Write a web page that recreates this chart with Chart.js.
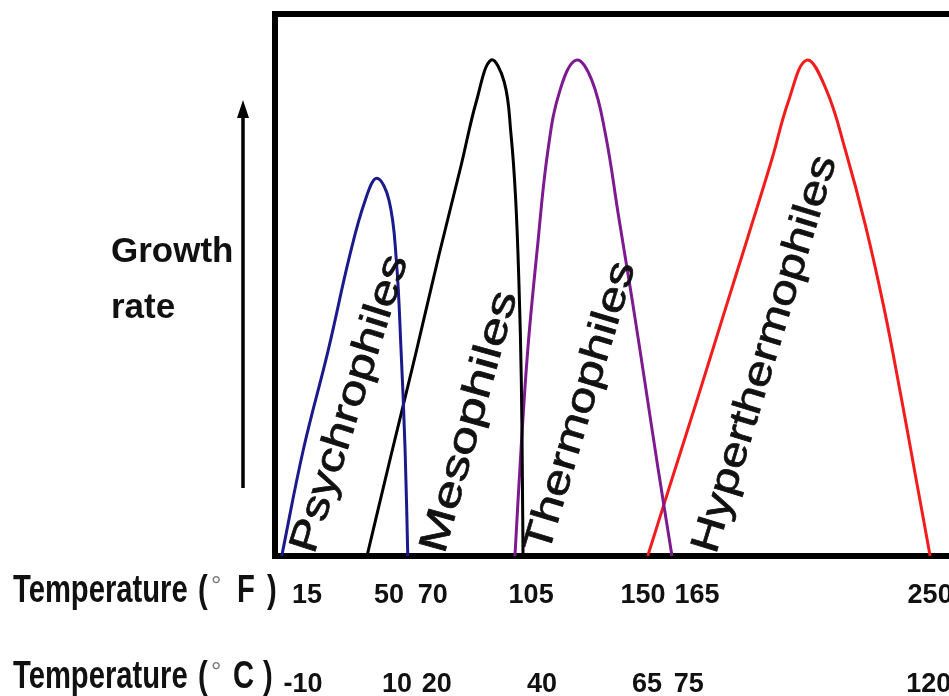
<!DOCTYPE html>
<html><head><meta charset="utf-8">
<style>html,body{margin:0;padding:0;background:#fff;overflow:hidden}</style>
<script src="https://cdn.jsdelivr.net/npm/chart.js@4.4.1/dist/chart.umd.min.js"></script>
</head><body>
<canvas id="c" width="949" height="696"></canvas>
<script>
// x: relative temperature position along the axis (0 = left edge of plot, 100 = right edge)
// y: growth rate, % of plot height
const fTickPos = [4.75, 16.9, 23.4, 38.0, 54.6, 62.6, 97.2];
const fTickLabels = ['15', '50', '70', '105', '150', '165', '250'];
const cTickPos = [4.15, 18.1, 24.0, 39.6, 55.2, 61.4, 97.0];
const cTickLabels = ['-10', '10', '20', '40', '65', '75', '120'];

const psychroX = [1.0, 4.2, 7.9, 11.1, 13.4, 15.1, 16.9, 18.0, 18.7, 19.3, 19.7];
const psychroY = [0, 19.6, 38.0, 55.5, 65.7, 69.7, 65.7, 54.6, 38.0, 19.6, 0];

const mesoX = [13.65, 17.2, 20.8, 24.3, 27.6, 29.9, 32.05, 34.0, 35.0, 35.7, 36.2, 36.55, 36.7, 36.8];
const mesoY = [0, 18.5, 36.9, 55.4, 72.0, 84.0, 91.5, 87.5, 78.0, 66.0, 50.0, 32.0, 15.0, 0];

const thermoX = [35.6, 36.5, 37.5, 38.9, 40.5, 42.3, 44.7, 47.0, 49.0, 51.0, 53.0, 54.9, 56.8, 58.9];
const thermoY = [0, 19.6, 38.0, 56.5, 74.9, 86.0, 91.5, 87.8, 78.0, 62.5, 47.2, 31.9, 16.4, 0];

const hyperX = [55.3, 59.05, 62.8, 66.5, 70.2, 73.7, 76.2, 78.9, 81.8, 84.6, 87.6, 90.4, 92.8, 95.0, 97.2];
const hyperY = [0, 14.8, 29.5, 44.3, 59.0, 73.1, 84.0, 91.5, 86.0, 75.0, 61.0, 45.5, 30.0, 15.0, 0];

const seriesNames = ['Psychrophiles', 'Mesophiles', 'Thermophiles', 'Hyperthermophiles'];
const seriesColors = ['#1a1a8c', '#000000', '#7d1a8f', '#f21c1c'];
const seriesX = [psychroX, mesoX, thermoX, hyperX];
const seriesY = [psychroY, mesoY, thermoY, hyperY];

// label anchors (x position at baseline start), rotation angle, text length
const labelX = [5.8, 25.1, 40.5, 65.4];
const labelAngle = [72.4, 74.3, 73.2, 73.0];
const labelLen = [310, 270, 302, 413];

const FONT = '"Liberation Sans", Arial, Helvetica, sans-serif';

const overlay = {
  id: 'overlay',
  afterDatasetsDraw(chart) {
    const ctx = chart.ctx;
    const xs = chart.scales.x, ys = chart.scales.y;
    ctx.save();
    ctx.fillStyle = '#111';
    ctx.strokeStyle = '#111';
    ctx.lineWidth = 0.7;
    ctx.textAlign = 'left';
    ctx.textBaseline = 'alphabetic';
    seriesNames.forEach((name, i) => {
      const px = xs.getPixelForValue(labelX[i]);
      const py = ys.getPixelForValue(0) - 1;
      ctx.save();
      ctx.translate(px, py);
      ctx.rotate(-labelAngle[i] * Math.PI / 180);
      ctx.font = '40px ' + FONT;
      const w = ctx.measureText(name).width;
      ctx.scale(labelLen[i] / w, 1);
      ctx.fillText(name, 0, 0);
      ctx.strokeText(name, 0, 0);
      ctx.restore();
    });
    ctx.restore();
  },
  afterDraw(chart) {
    const ctx = chart.ctx;
    ctx.save();
    // arrow
    ctx.strokeStyle = '#000';
    ctx.fillStyle = '#000';
    ctx.lineWidth = 3.5;
    ctx.beginPath();
    ctx.moveTo(243, 488);
    ctx.lineTo(243, 112);
    ctx.stroke();
    ctx.beginPath();
    ctx.moveTo(243, 100);
    ctx.lineTo(237, 118);
    ctx.lineTo(249, 118);
    ctx.closePath();
    ctx.fill();
    // Growth rate
    ctx.fillStyle = '#111';
    ctx.font = 'bold 35px ' + FONT;
    ctx.textAlign = 'left';
    ctx.textBaseline = 'alphabetic';
    ctx.fillText('Growth', 111, 262);
    ctx.fillText('rate', 111, 318);
    // Temperature headers
    const piece = (txt, x, y, font, sy) => {
      ctx.save();
      ctx.translate(x, y);
      ctx.scale(1, sy);
      ctx.font = font;
      ctx.fillText(txt, 0, 0);
      ctx.restore();
    };
    const rows = [[602, 'F', 237, 267], [688, 'C', 233, 263]];
    rows.forEach(([y, unit, ux, px]) => {
      ctx.fillStyle = '#111';
      piece('Temperature', 13, y, 'bold 29.2px ' + FONT, 1.3);
      piece('(', 198, y, 'bold 29.2px ' + FONT, 1.3);
      piece(unit, ux, y, 'bold 29.2px ' + FONT, 1.3);
      piece(')', px, y, 'bold 29.2px ' + FONT, 1.3);
      ctx.fillStyle = '#777';
      piece('°', 211, y - 8, '26px ' + FONT, 1);
    });
    ctx.restore();
  }
};

const tickFont = { family: FONT, size: 27, weight: 'bold', lineHeight: 1.2 };

new Chart(document.getElementById('c'), {
  type: 'line',
  data: {
    datasets: seriesNames.map((name, i) => ({
      label: name,
      data: seriesX[i].map((x, j) => ({ x: x, y: seriesY[i][j] })),
      borderColor: seriesColors[i],
      borderWidth: 3,
      pointRadius: 0,
      fill: false,
      tension: 0.4,
      xAxisID: 'x',
      yAxisID: 'y'
    }))
  },
  options: {
    responsive: false,
    animation: false,
    devicePixelRatio: 1,
    layout: { padding: { left: 275, top: 14, right: 0, bottom: 0 } },
    plugins: { legend: { display: false }, tooltip: { enabled: false } },
    scales: {
      x: {
        type: 'linear', position: 'bottom', min: 0, max: 100, weight: 0,
        grid: { display: false },
        border: { display: true, width: 6, color: '#000' },
        afterBuildTicks: s => { s.ticks = fTickPos.map(v => ({ value: v })); },
        afterFit: s => { s.paddingLeft = 0; s.paddingRight = 0; s.height = 60; },
        ticks: {
          autoSkip: false, maxRotation: 0, minRotation: 0, padding: 15,
          color: '#111', font: tickFont,
          callback: (v, i) => fTickLabels[i]
        }
      },
      x2: {
        type: 'linear', position: 'bottom', min: 0, max: 100, weight: 1,
        grid: { display: false },
        border: { display: false },
        afterBuildTicks: s => { s.ticks = cTickPos.map(v => ({ value: v })); },
        afterFit: s => { s.paddingLeft = 0; s.paddingRight = 0; s.height = 80; },
        ticks: {
          autoSkip: false, maxRotation: 0, minRotation: 0, padding: 44,
          color: '#111', font: tickFont,
          callback: (v, i) => cTickLabels[i]
        }
      },
      xTop: {
        type: 'linear', position: 'top', min: 0, max: 100,
        grid: { display: false },
        border: { display: true, width: 6, color: '#000' },
        ticks: { display: false },
        afterFit: s => { s.paddingLeft = 0; s.paddingRight = 0; s.height = 0; }
      },
      y: {
        type: 'linear', position: 'left', min: 0, max: 100,
        grid: { display: false },
        border: { display: true, width: 6, color: '#000' },
        ticks: { display: false },
        afterFit: s => { s.width = 0; s.paddingTop = 0; s.paddingBottom = 0; }
      }
    }
  },
  plugins: [overlay]
});
</script>
</body></html>
